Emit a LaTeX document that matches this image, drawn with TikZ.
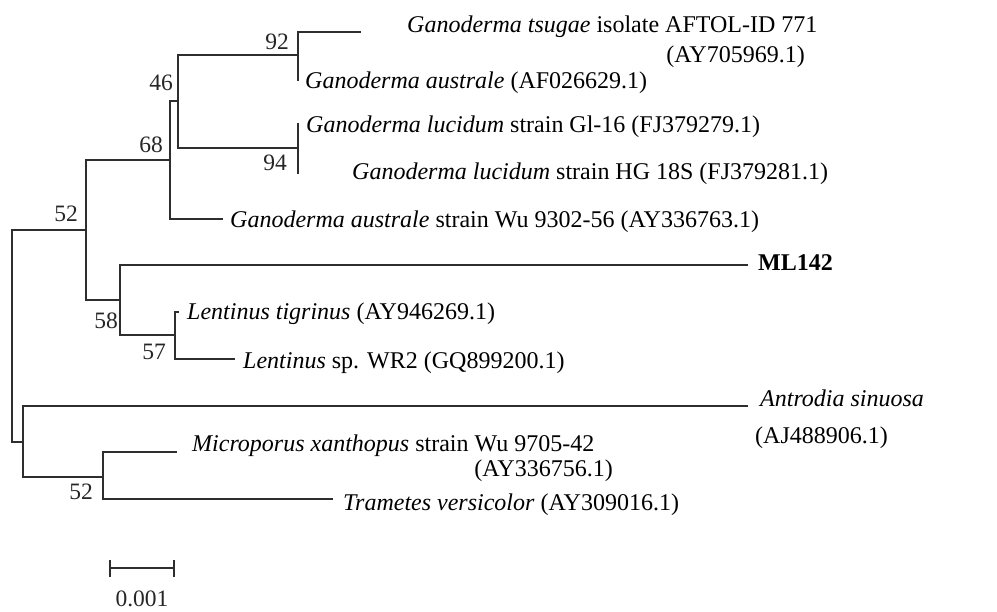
\documentclass[tikz,border=0pt]{standalone}
\usepackage{fontspec}
\setmainfont{Liberation Serif}
\begin{document}
\begin{tikzpicture}[x=1pt,y=-1pt,
  br/.style={draw=black!82,line width=2.2pt,line cap=rect,line join=miter},
  lab/.style={inner sep=0pt,anchor=base west,font=\fontsize{24}{26}\selectfont},
  labr/.style={inner sep=0pt,anchor=base east,font=\fontsize{24}{26}\selectfont},
  bs/.style={inner sep=0pt,anchor=base,font=\fontsize{23.5}{26}\selectfont,text=black!85}]
\useasboundingbox (0,0) rectangle (997,612);
% internal nodes and tips
\coordinate (root) at (12,336);
\coordinate (nA) at (86,230);
\coordinate (nB) at (170,160);
\coordinate (nC) at (178,101);
\coordinate (nD) at (298,55);
\coordinate (nE) at (298,148);
\coordinate (nF) at (120,300);
\coordinate (nG) at (175,335);
\coordinate (nI) at (23,442);
\coordinate (nH) at (103,477);
\coordinate (tTs) at (360,32);
\coordinate (tAu) at (298,80);
\coordinate (tGl) at (298,124);
\coordinate (tHG) at (298,173);
\coordinate (tWu) at (222,219);
\coordinate (tML) at (747,265);
\coordinate (tTi) at (178,312);
\coordinate (tWR) at (234,359);
\coordinate (tAn) at (747,406);
\coordinate (tMi) at (176,452);
\coordinate (tTr) at (332,499);
% branches
\draw[br] (root) |- (nA);
\draw[br] (root) |- (nI);
\draw[br] (nA) |- (nB);
\draw[br] (nA) |- (nF);
\draw[br] (nB) |- (nC);
\draw[br] (nB) |- (tWu);
\draw[br] (nC) |- (nD);
\draw[br] (nC) |- (nE);
\draw[br] (nD) |- (tTs);
\draw[br] (nD) |- (tAu);
\draw[br] (nE) |- (tGl);
\draw[br] (nE) |- (tHG);
\draw[br] (nF) |- (tML);
\draw[br] (nF) |- (nG);
\draw[br] (nG) |- (tTi);
\draw[br] (nG) |- (tWR);
\draw[br] (nI) |- (tAn);
\draw[br] (nI) |- (nH);
\draw[br] (nH) |- (tMi);
\draw[br] (nH) |- (tTr);
% bootstrap values
\node[bs] (b92) at (277,50) {92};
\node[bs] (b46) at (161,91) {46};
\node[bs] (b68) at (151,153) {68};
\node[bs] (b94) at (275,171) {94};
\node[bs] (b52a) at (66,222) {52};
\node[bs] (b58) at (106,329) {58};
\node[bs] (b57) at (154,360) {57};
\node[bs] (b52b) at (81,500) {52};
% tip labels
\node[lab] (lTs) at (407,33) {\textit{Ganoderma tsugae} isolate AFTOL-ID 771};
\node[labr] (lTs2) at (805,63) {(AY705969.1)};
\node[lab] (lAu) at (305,89) {\textit{Ganoderma australe} (AF026629.1)};
\node[lab] (lGl) at (306,133) {\textit{Ganoderma lucidum} strain Gl-16 (FJ379279.1)};
\node[lab] (lHG) at (352,180) {\textit{Ganoderma lucidum} strain HG 18S (FJ379281.1)};
\node[lab] (lWu) at (230,228) {\textit{Ganoderma australe} strain Wu 9302-56 (AY336763.1)};
\node[lab] (lML) at (758,271) {\textbf{ML142}};
\node[lab] (lTi) at (187,320) {\textit{Lentinus tigrinus} (AY946269.1)};
\node[lab] (lWR) at (243,369) {\textit{Lentinus} sp. WR2 (GQ899200.1)};
\node[lab] (lAn) at (760,407) {\textit{Antrodia sinuosa}};
\node[lab] (lAn2) at (755,444) {(AJ488906.1)};
\node[lab] (lMi) at (192,452) {\textit{Microporus xanthopus} strain Wu 9705-42};
\node[labr] (lMi2) at (613,477) {(AY336756.1)};
\node[lab] (lTr) at (343,511) {\textit{Trametes versicolor} (AY309016.1)};
% scale bar
\coordinate (sL) at (110,568);
\coordinate (sR) at (174,568);
\draw[br,line cap=butt] (sL) -- (sR);
\draw[br,line cap=butt] ([yshift=-8.5pt]sL) -- ([yshift=8.5pt]sL);
\draw[br,line cap=butt] ([yshift=-8.5pt]sR) -- ([yshift=8.5pt]sR);
\node[bs] (lS) at (142,606) {0.001};
\end{tikzpicture}
\end{document}
